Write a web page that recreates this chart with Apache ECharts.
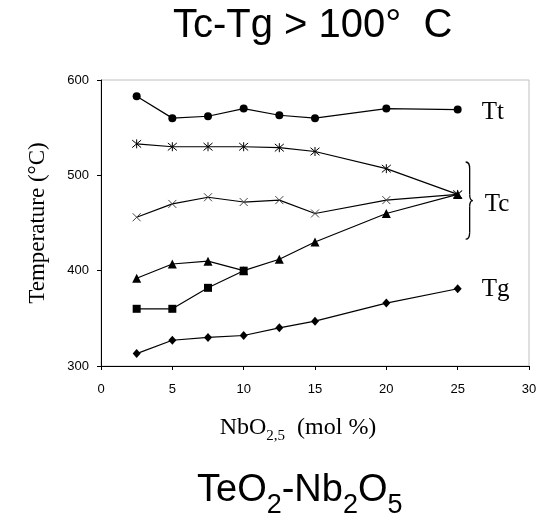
<!DOCTYPE html>
<html>
<head>
<meta charset="utf-8">
<script src="https://cdn.jsdelivr.net/npm/echarts@6/dist/echarts.min.js"></script>
<style>
  html, body { margin: 0; padding: 0; background: #fff; }
  #chart { width: 543px; height: 515px; }
</style>
</head>
<body>
<div id="chart"></div>
<script>
// NbO2.5 content (mol %) of the TeO2-Nb2O5 glasses
const nbContent = [2.5, 5, 7.5, 10, 12.5, 15, 20, 25];
const nbContentShort = [2.5, 5, 7.5, 10];

// Characteristic temperatures (°C)
const tt = [583, 560, 562, 570, 563, 560, 570, 569];          // Tt
const tcFirst = [533, 530, 530, 530, 529, 525, 507, 480];     // Tc, first peak
const tcSecond = [456, 470, 477, 472, 474, 460, 474, 480];    // Tc, second peak
const tcThird = [392, 407, 410, 400, 412, 430, 460, 480];     // Tc, third peak
const tcFourth = [360, 360, 382, 400];                        // Tc, fourth peak
const tg = [313, 327, 330, 332, 340, 347, 366, 381];          // Tg

const xTicks = { min: 0, max: 30, interval: 5 };
const yTicks = { min: 300, max: 600, interval: 100 };

const SERIF = '"Liberation Serif", "Times New Roman", serif';
const SANS = '"Liberation Sans", Arial, sans-serif';

function pairs(xs, ys) { return xs.map((x, i) => [x, ys[i]]); }

const STAR = 'path://M0 0L10 10M10 0L0 10M5 -1L5 11';
const CROSS = 'path://M0 0L10 10M10 0L0 10';

function lineSeries(name, data, symbol, size, extra) {
  return Object.assign({
    name, type: 'line', data, symbol, symbolSize: size,
    showAllSymbol: true,
    lineStyle: { color: '#000', width: 1.2 },
    itemStyle: { color: '#000' },
    emphasis: { disabled: true },
    animation: false
  }, extra || {});
}

const chart = echarts.init(document.getElementById('chart'), null, { renderer: 'canvas' });

const option = {
  backgroundColor: '#fff',
  animation: false,
  title: [
    {
      text: 'Tc-Tg > 100°  C',
      left: 168, top: 1,
      textStyle: { fontFamily: SANS, fontSize: 40, fontWeight: 'normal', color: '#000' }
    },
    {
      // main glyphs are lifted by their bottom padding so the subscripts sit lower
      text: '{m|TeO}{s|2}{m|-Nb}{s|2}{m|O}{s|5}',
      left: 192, top: 480,
      textStyle: {
        fontWeight: 'normal',
        rich: {
          m: { fontFamily: SANS, fontSize: 38, fontWeight: 'normal', color: '#000', verticalAlign: 'bottom', lineHeight: 34, padding: [0, 0, 9, 0] },
          s: { fontFamily: SANS, fontSize: 27, fontWeight: 'normal', color: '#000', verticalAlign: 'bottom', lineHeight: 24 }
        }
      }
    }
  ],
  grid: {
    left: 101, right: 14, top: 80, bottom: 149,
    show: true, borderColor: '#c0c0c0', borderWidth: 1, backgroundColor: 'transparent'
  },
  xAxis: {
    type: 'value', min: xTicks.min, max: xTicks.max, interval: xTicks.interval,
    name: '{m|NbO}{s|2,5}{m|  (mol %)}',
    nameLocation: 'middle', nameGap: 54,
    nameTextStyle: {
      padding: [0, 34, 0, 0],
      rich: {
        m: { fontFamily: SERIF, fontSize: 24, color: '#000', verticalAlign: 'bottom', lineHeight: 24, padding: [0, 0, 4, 0] },
        s: { fontFamily: SERIF, fontSize: 15, color: '#000', verticalAlign: 'bottom', lineHeight: 16 }
      }
    },
    axisLine: { show: true, lineStyle: { color: '#000', width: 1 } },
    axisTick: { show: true, inside: false, length: 4, lineStyle: { color: '#000' } },
    axisLabel: { fontFamily: SANS, fontSize: 13, color: '#000', margin: 17 },
    splitLine: { show: false }
  },
  yAxis: {
    type: 'value', min: yTicks.min, max: yTicks.max, interval: yTicks.interval,
    name: 'Temperature (°C)',
    nameLocation: 'middle', nameGap: 52,
    nameTextStyle: { fontFamily: SERIF, fontSize: 23, color: '#000' },
    axisLine: { show: true, lineStyle: { color: '#000', width: 1 } },
    axisTick: { show: true, inside: false, length: 4, lineStyle: { color: '#000' } },
    axisLabel: { fontFamily: SANS, fontSize: 13, color: '#000', margin: 12 },
    splitLine: { show: false }
  },
  series: [
    lineSeries('Tt', pairs(nbContent, tt), 'circle', 8, {
      endLabel: {
        show: true, formatter: 'Tt', offset: [16, 3],
        fontFamily: SERIF, fontSize: 25, color: '#000'
      }
    }),
    lineSeries('Tc1', pairs(nbContent, tcFirst), STAR, 9, {
      itemStyle: { color: 'transparent', borderColor: '#000', borderWidth: 1 }
    }),
    lineSeries('Tc2', pairs(nbContent, tcSecond), CROSS, 8, {
      itemStyle: { color: 'transparent', borderColor: '#444', borderWidth: 1 }
    }),
    lineSeries('Tc3', pairs(nbContent, tcThird), 'triangle', 9),
    lineSeries('Tc4', pairs(nbContentShort, tcFourth), 'rect', 8),
    lineSeries('Tg', pairs(nbContent, tg), 'diamond', [8, 9], {
      endLabel: {
        show: true, formatter: 'Tg', offset: [16, 1],
        fontFamily: SERIF, fontSize: 25, color: '#000'
      }
    })
  ]
};

chart.setOption(option);

// Brace grouping the four Tc curves, anchored to where they meet at 25 mol %
const meet = chart.convertToPixel({ gridIndex: 0 }, [25, 480]);
const braceTop = chart.convertToPixel({ gridIndex: 0 }, [25, 514])[1];
const braceBottom = chart.convertToPixel({ gridIndex: 0 }, [25, 433])[1];
const bx = meet[0] + 8;
const bh = braceBottom - braceTop;
const mid = bh / 2;
const braceStyle = { stroke: '#000', lineWidth: 1.3, fill: 'none' };

function curve(x1, y1, cx1, cy1, cx2, cy2, x2, y2) {
  return {
    type: 'bezierCurve', silent: true,
    shape: { x1, y1, cpx1: cx1, cpy1: cy1, cpx2: cx2, cpy2: cy2, x2, y2 },
    style: braceStyle
  };
}
function seg(x1, y1, x2, y2) {
  return { type: 'line', silent: true, shape: { x1, y1, x2, y2 }, style: braceStyle };
}

chart.setOption({
  graphic: [
    {
      type: 'group', x: bx, y: braceTop, silent: true,
      children: [
        curve(0, 0, 3, 0, 4, 2, 4, 7),
        seg(4, 7, 4, mid - 6),
        curve(4, mid - 6, 4, mid - 2, 5, mid, 7, mid),
        curve(7, mid, 5, mid, 4, mid + 2, 4, mid + 6),
        seg(4, mid + 6, 4, bh - 7),
        curve(4, bh - 7, 4, bh - 2, 3, bh, 0, bh)
      ]
    },
    {
      type: 'text',
      x: bx + 19, y: meet[1] + 10,
      style: {
        text: 'Tc', font: '25px ' + SERIF, fill: '#000',
        textVerticalAlign: 'middle', verticalAlign: 'middle'
      },
      silent: true
    }
  ]
});
</script>
</body>
</html>
